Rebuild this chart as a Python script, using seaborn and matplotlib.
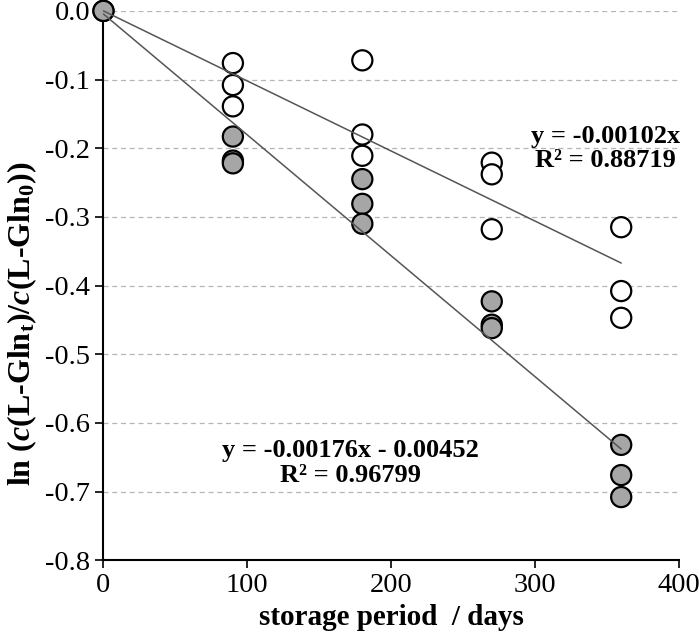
import numpy as np
import pandas as pd
import matplotlib
matplotlib.use("Agg")
import matplotlib.pyplot as plt
import seaborn as sns

# storage days and ln(c/c0) values
days_open = [0, 90, 90, 90, 180, 180, 180, 270, 270, 270, 360, 360, 360]
vals_open = [0.0, -0.076, -0.108, -0.139, -0.072, -0.180, -0.211,
             -0.221, -0.238, -0.318, -0.315, -0.408, -0.447]

days_grey = [0, 90, 90, 90, 180, 180, 180, 270, 270, 270, 360, 360, 360]
vals_grey = [0.0, -0.183, -0.218, -0.222, -0.245, -0.281, -0.310,
             -0.423, -0.457, -0.462, -0.632, -0.676, -0.708]

# linear fits shown on the chart
fit_open = {"slope": -0.00102, "intercept": 0.0, "r2": 0.88719}
fit_grey = {"slope": -0.00176, "intercept": -0.00452, "r2": 0.96799}
fit_range = [0, 360]

x_ticks = [0, 100, 200, 300, 400]
y_ticks = [-0.8, -0.7, -0.6, -0.5, -0.4, -0.3, -0.2, -0.1, 0.0]
y_labels = ["-0.8", "-0.7", "-0.6", "-0.5", "-0.4", "-0.3", "-0.2", "-0.1", "0.0"]

df = pd.DataFrame({
    "days": days_open + days_grey,
    "val": vals_open + vals_grey,
    "group": ["open"] * len(days_open) + ["grey"] * len(days_grey),
})

sns.set_theme(style="white")
plt.rcParams["font.family"] = ["Liberation Serif", "DejaVu Serif"]
plt.rcParams["mathtext.fontset"] = "custom"
plt.rcParams["mathtext.rm"] = "Liberation Serif:bold"
plt.rcParams["mathtext.it"] = "Liberation Serif:bold:italic"
plt.rcParams["mathtext.bf"] = "Liberation Serif:bold"
plt.rcParams["text.color"] = "black"
plt.rcParams["axes.labelcolor"] = "black"

fig = plt.figure(figsize=(6.99, 6.41), dpi=100)
ax = fig.add_axes([0.148, 0.126, 0.823, 0.857])

sns.scatterplot(data=df, x="days", y="val", hue="group",
                palette={"open": "white", "grey": "#a6a6a6"},
                hue_order=["open", "grey"],
                s=210, edgecolor="black", linewidth=1.6,
                legend=False, ax=ax, clip_on=False, zorder=3)

xf = np.array(fit_range)
for fit in (fit_open, fit_grey):
    ax.plot(xf, fit["slope"] * xf + fit["intercept"], color="#555555",
            linewidth=1.1, zorder=4, clip_on=False)

ax.text(349, -0.200, "y = %.5fx\nR² = %.5f" % (fit_open["slope"], fit_open["r2"]),
        ha="center", va="center", fontsize=19, fontweight="bold",
        linespacing=1.05)
ax.text(172, -0.658, "y = %.5fx - %.5f\nR² = %.5f"
        % (fit_grey["slope"], -fit_grey["intercept"], fit_grey["r2"]),
        ha="center", va="center", fontsize=19, fontweight="bold",
        linespacing=1.1)

ax.set_xlim(0, 400)
ax.set_ylim(-0.8, 0.0)
ax.set_xticks(x_ticks)
ax.set_yticks(y_ticks)
ax.set_yticklabels(y_labels)
ax.tick_params(axis="both", direction="out", length=6, width=1.2,
               labelsize=20.5, color="black", labelcolor="black",
               left=True, bottom=True)

for v in y_ticks[1:]:
    ax.axhline(v, color="#b5b5b5", linestyle=(0, (4, 3)), linewidth=0.9, zorder=0)

for side in ("top", "right"):
    ax.spines[side].set_visible(False)
for side in ("left", "bottom"):
    ax.spines[side].set_color("black")
    ax.spines[side].set_linewidth(1.5)

ax.set_xlabel("storage period  / days", fontsize=21, fontweight="bold", labelpad=4)
ax.set_ylabel(r"ln ($c$(L-Gln$_{\rm t}$)/$c$(L-Gln$_{\rm 0}$))", fontsize=23,
              fontweight="bold")
ax.yaxis.set_label_coords(-0.112, 0.43)

fig.savefig("out.png", dpi=100)
